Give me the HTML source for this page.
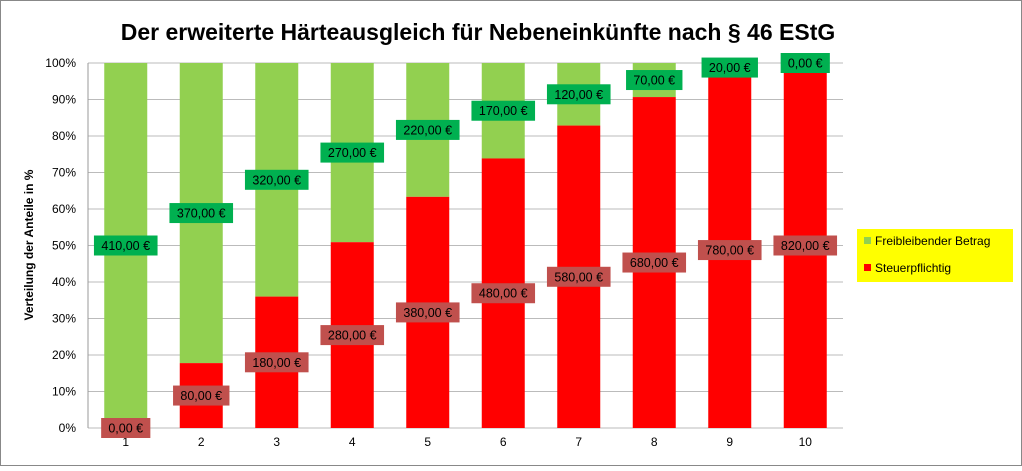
<!DOCTYPE html>
<html><head><meta charset="utf-8"><style>
body{margin:0;background:#fff;}
svg text{font-family:"Liberation Sans",sans-serif;}
</style></head><body>
<svg width="1022" height="466" viewBox="0 0 1022 466" xmlns="http://www.w3.org/2000/svg">
<rect x="0.5" y="0.5" width="1021" height="465" fill="#fff" stroke="#888"/>
<text x="478" y="40" font-size="23" font-weight="bold" text-anchor="middle" fill="#000">Der erweiterte Härteausgleich für Nebeneinkünfte nach § 46 EStG</text>
<text transform="translate(33,245) rotate(-90)" font-size="12" font-weight="bold" text-anchor="middle">Verteilung der Anteile in %</text>
<rect x="857" y="229" width="156" height="53" fill="#ffff00"/>
<rect x="864" y="237" width="7" height="7" fill="#92d050"/>
<text x="875" y="245" font-size="12">Freibleibender Betrag</text>
<rect x="864" y="264" width="7" height="7" fill="#ff0000"/>
<text x="875" y="272" font-size="12">Steuerpflichtig</text>
</svg>
<script>
const ns="http://www.w3.org/2000/svg";
const svg=document.querySelector('svg');
function el(t,a,txt){const e=document.createElementNS(ns,t);for(const k in a)e.setAttribute(k,a[k]);if(txt!==undefined)e.textContent=txt;svg.appendChild(e);return e;}
const L=88,R=843,T=63,B=428,H=B-T;
for(let i=0;i<=10;i++){const y=B-H*i/10;
el('line',{x1:L,x2:R,y1:y,y2:y,stroke:'#bbb','stroke-width':1});
el('text',{x:76,y:y+4,'font-size':12,'text-anchor':'end'},(i*10)+'%');}
el('line',{x1:L,x2:L,y1:T,y2:B,stroke:'#999'});
const w=75.5;
const reds=[0,80,180,280,380,480,580,680,780,820];
const greens=[410,370,320,270,220,170,120,70,20,0];
const labels=[];
for(let i=0;i<10;i++){
 const cx=L+w/2+w*i, red=reds[i], g=greens[i], tot=red+g;
 const rh=H*red/tot;
 el('rect',{x:cx-21.5,y:T,width:43,height:H-rh,fill:'#92d050'});
 el('rect',{x:cx-21.5,y:B-rh,width:43,height:rh,fill:'#ff0000'});
 el('text',{x:cx,y:446,'font-size':12,'text-anchor':'middle'},String(i+1));
 labels.push([cx,T+(H-rh)/2,g,'#00b050'],[cx,B-rh/2,red,'#c0504d']);
}
for(const [cx,y,v,c] of labels){const t=v+',00 €';const bw=t.length*7.2+6;
  el('rect',{x:cx-bw/2,y:y-10,width:bw,height:20,fill:c});
  el('text',{x:cx,y:y+4.5,'font-size':12.5,'text-anchor':'middle'},t);}
</script>
</body></html>
